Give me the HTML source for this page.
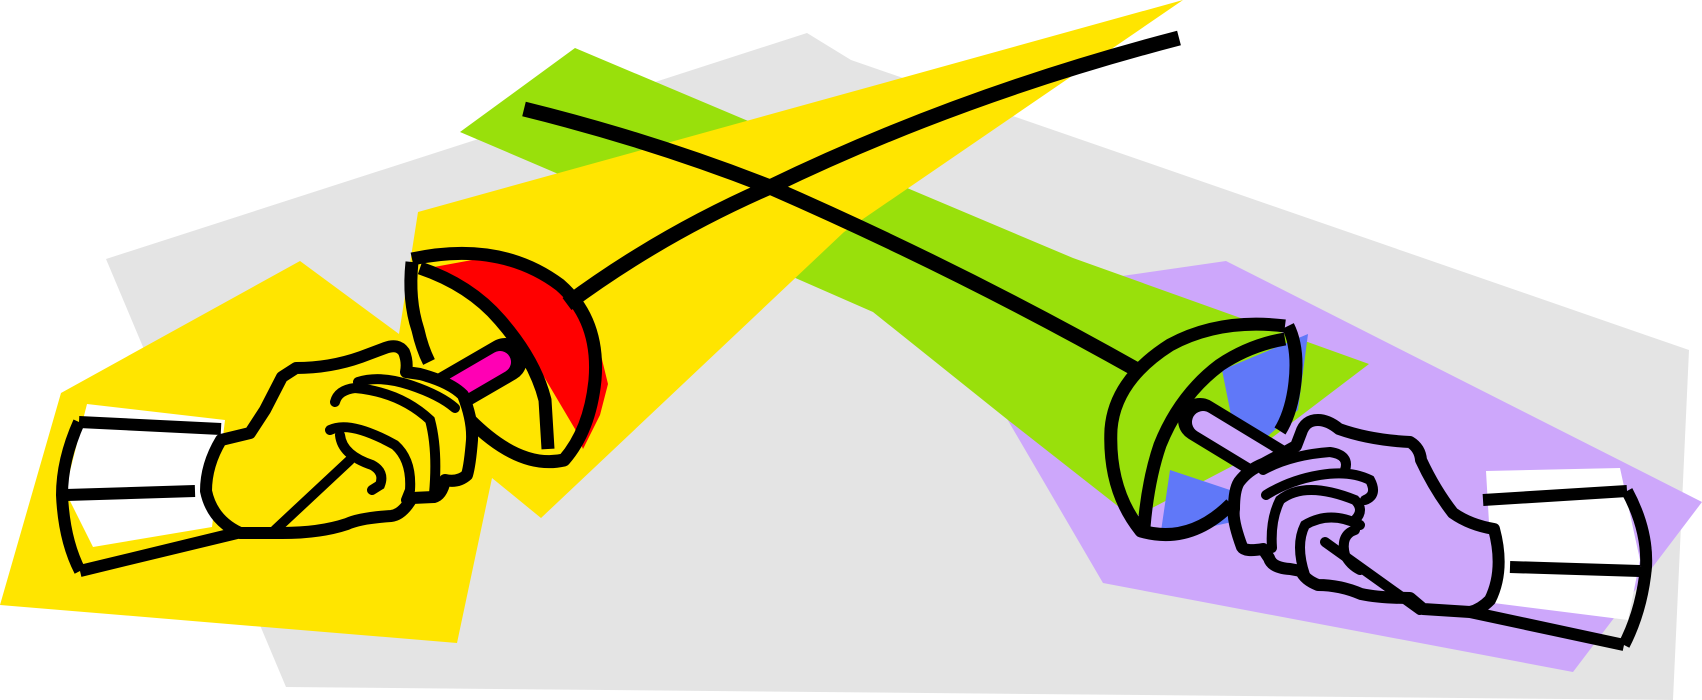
<!DOCTYPE html>
<html><head><meta charset="utf-8"><style>html,body{margin:0;padding:0;background:#fff}svg{display:block}</style></head>
<body>
<svg width="1702" height="700" viewBox="0 0 1702 700" xmlns="http://www.w3.org/2000/svg">
<polygon points="106,259 807,33 851,60 1689,350 1673,700 286,687" fill="#E4E4E4"/>
<polygon points="1122,276 1226,261 1702,502 1573,672 1103,583 1006,417" fill="#CDA7FB"/>
<polygon points="460,132 575,48 1073,258 1369,364 1240,462 1133,518 1008,420 873,312 556,173" fill="#99E00B"/>
<polygon points="0,605 61,393 300,261 399,334 418,212 1183,0 844,232 541,518 492,478 457,643" fill="#FFE500"/>
<polygon points="87,404 225,420 212,527 93,547 65,491" fill="#fff"/>
<polygon points="1486,471 1620,468 1640,560 1628,620 1470,600 1490,540" fill="#fff"/>
<polygon points="434,267 505,254 564,286 597,339 608,384 600,415 583,449 575,429 543,375 510,326 467,286" fill="#f00"/>
<polygon points="1222,370 1308,334 1298,410 1240,460" fill="#6078F8"/>
<polygon points="1170,470 1230,490 1232,522 1160,538" fill="#6078F8"/>
<g fill="none" stroke="#000" stroke-width="15">
<path d="M567,304 Q660,235 770,187 Q960,95 1179,38"/>
<path d="M524,109 Q650,140 770,187 Q960,270 1139,371"/>
</g>
<g fill="none" stroke="#000" stroke-width="13" stroke-linejoin="round">
<path d="M412,259 Q500,240 560,285 Q600,320 595,380 Q590,430 564,460 Q520,470 470,420"/>
<path d="M420,268 Q470,285 500,320 Q535,360 545,400 L548,449"/>
<path d="M412,262 Q408,300 418,330 Q422,348 429,362"/>
</g>
<line x1="255" y1="505" x2="505" y2="360" stroke="#000" stroke-width="44" stroke-linecap="round"/>
<line x1="258" y1="503" x2="500" y2="362" stroke="#FF00B4" stroke-width="22" stroke-linecap="round"/>
<g fill="none" stroke="#000" stroke-width="12">
<path d="M79,422 L221,429"/>
<path d="M80,571 L237,533"/>
<path d="M79,422 Q62,460 62,495 Q64,540 80,571"/>
<path d="M66,495 L195,491"/>
</g>
<path d="M221,440 L250,433 L265,410 L282,377 L296,368 Q330,368 361,357 L385,348 Q398,343 404,352 Q408,362 406,372 L420,374 Q450,382 463,395 Q473,420 472,440 Q470,465 467,475 Q458,483 445,480 Q442,495 434,497 L412,498 Q402,515 391,516 Q360,518 347,524 Q320,533 282,533 L240,533 Q212,520 206,491 Q206,465 221,440 Z" fill="#FFE500" stroke="#000" stroke-width="12" stroke-linejoin="round"/>
<g fill="none" stroke="#000" stroke-width="10" stroke-linecap="round">
<path d="M358,382 Q380,375 410,385 Q440,395 455,408"/>
<path d="M335,402 Q338,390 355,388 Q400,392 430,420 Q438,450 434,494"/>
<path d="M330,430 Q350,420 395,445 Q412,460 410,490 L406,500"/>
<path d="M340,435 Q342,455 372,465 Q385,472 380,485 L372,490"/>
<path d="M275,530 L350,460"/>
</g>
<g fill="none" stroke="#000" stroke-width="13" stroke-linejoin="round">
<path d="M1285,326 Q1220,318 1170,345 Q1115,380 1111,429 Q1108,490 1141,531 Q1190,545 1231,504"/>
<path d="M1144,527 Q1148,480 1160,445 Q1180,395 1220,365 Q1250,345 1285,339"/>
<path d="M1288,326 Q1300,350 1294,390 Q1290,415 1280,431"/>
</g>
<line x1="1200" y1="420" x2="1455" y2="575" stroke="#000" stroke-width="44" stroke-linecap="round"/>
<line x1="1203" y1="422" x2="1450" y2="572" stroke="#CDA7FB" stroke-width="22" stroke-linecap="round"/>
<g fill="none" stroke="#000" stroke-width="12">
<path d="M1483,500 L1627,491"/>
<path d="M1470,612 L1624,645"/>
<path d="M1627,491 Q1648,530 1646,567 Q1642,610 1624,645"/>
<path d="M1510,567 L1640,571"/>
</g>
<path d="M1301,433 Q1305,420 1318,420 Q1328,420 1339,429 Q1370,440 1410,442 Q1420,448 1421,460 Q1435,490 1453,513 Q1470,525 1494,529 Q1505,570 1490,600 Q1480,610 1470,612 L1423,609 L1410,598 Q1380,598 1361,594 Q1340,585 1318,585 Q1305,580 1301,571 L1290,569 Q1272,568 1269,558 L1263,549 Q1245,552 1242,547 Q1232,520 1234,509 Q1234,490 1239,482 Q1248,470 1263,464 Q1280,455 1296,446 Z" fill="#CDA7FB" stroke="#000" stroke-width="12" stroke-linejoin="round"/>
<g fill="none" stroke="#000" stroke-width="10" stroke-linecap="round">
<path d="M1263,470 Q1290,455 1330,452 Q1350,455 1345,470"/>
<path d="M1266,495 Q1290,480 1320,475 Q1350,470 1370,480 Q1378,495 1365,500"/>
<path d="M1272,548 Q1270,520 1280,500 Q1305,480 1355,500 Q1365,510 1355,520"/>
<path d="M1305,575 Q1295,545 1305,525 Q1330,510 1360,525"/>
<path d="M1355,530 Q1340,535 1345,555 Q1350,565 1360,570"/>
<path d="M1325,542 L1420,610"/>
</g>
</svg>
</body></html>
